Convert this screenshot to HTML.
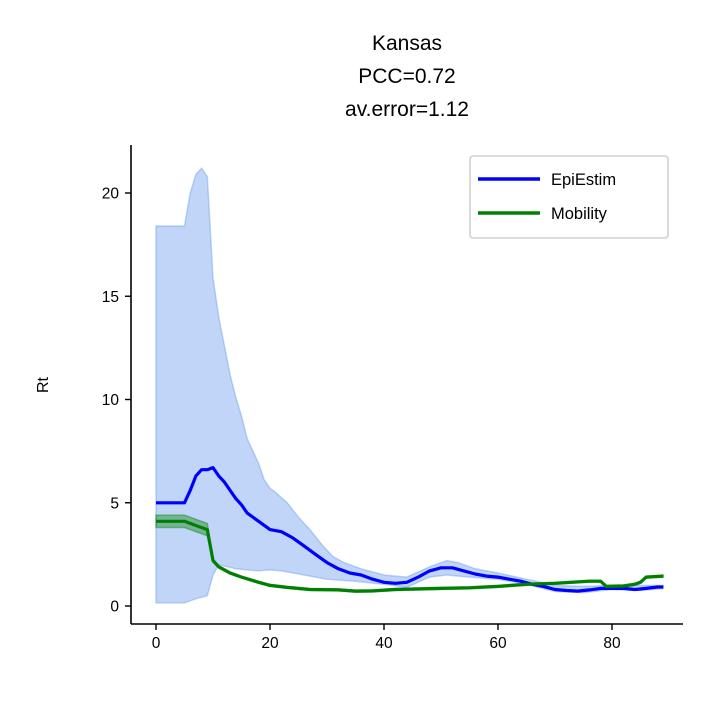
<!DOCTYPE html>
<html><head><meta charset="utf-8"><style>
body{margin:0;background:#fff}
svg text{font-family:"Liberation Sans","DejaVu Sans",sans-serif;fill:#000}
</style></head><body>
<svg id="chart" width="708" height="708" viewBox="0 0 708 708">
<g id="title" font-size="21" text-anchor="middle">
<text x="407" y="50">Kansas</text><text x="407" y="83">PCC=0.72</text><text x="407" y="116">av.error=1.12</text>
</g>
<g id="plot"></g>
<line x1="131" y1="145" x2="131" y2="624" stroke="#000" stroke-width="1.6"/>
<line x1="131" y1="624" x2="683" y2="624" stroke="#000" stroke-width="1.6"/>
<g id="ticks" font-size="15.5"></g>
<text x="48" y="385" font-size="16" text-anchor="middle" transform="rotate(-90 48 385)">Rt</text>
<g>
<rect x="470" y="156" width="198" height="82" rx="3" fill="#fff" stroke="#ccc" stroke-width="1.6" opacity="0.9"/>
<g><line x1="478" y1="179" x2="540" y2="179" stroke="#0000ff" stroke-width="3.5"/><text x="551" y="185" font-size="16.5">EpiEstim</text></g>
<g><line x1="478" y1="213" x2="540" y2="213" stroke="#008000" stroke-width="3.5"/><text x="551" y="219" font-size="16.5">Mobility</text></g>
</g>
</svg>
<script>
const epiDays=[0,5,6,7,8,9,10,11,12,13,14,15,16,18,20,22,24,26,28,30,32,34,36,38,40,42,44,46,48,50,52,54,56,58,60,62,64,66,68,70,72,74,76,78,80,82,84,86,88,89];
const epiMean=[5.0,5.0,5.6,6.3,6.6,6.6,6.7,6.3,6.0,5.6,5.2,4.9,4.5,4.1,3.7,3.6,3.3,2.9,2.5,2.1,1.8,1.6,1.5,1.3,1.15,1.1,1.15,1.4,1.7,1.85,1.85,1.7,1.55,1.45,1.4,1.3,1.2,1.05,0.95,0.8,0.75,0.72,0.78,0.85,0.85,0.85,0.8,0.85,0.92,0.92];
const upDays=[0,5,6,7,8,9,10,11,12,13,14,15,16,18,19,20,21,23,25,27,29,31,33,36,40,44,48,51,53,56,60,65,70,75,80,85,89];
const epiUpper=[18.4,18.4,20.0,20.9,21.2,20.8,15.9,14.0,12.6,11.2,10.1,9.2,8.1,6.9,6.1,5.7,5.5,5.0,4.3,3.7,3.0,2.4,2.1,1.8,1.5,1.4,1.9,2.2,2.1,1.8,1.6,1.3,1.0,0.95,1.0,1.0,1.0];
const loDays=[0,5,7,9,10,11,14,18,20,22,26,30,35,40,44,48,51,55,60,65,70,75,80,85,89];
const epiLower=[0.15,0.15,0.35,0.5,1.5,2.0,1.8,1.7,1.75,1.7,1.5,1.3,1.2,1.05,0.9,1.4,1.5,1.4,1.3,1.05,0.7,0.65,0.8,0.75,0.85];
const mobDays=[0,5,7,9,10,11,13,15,18,20,23,27,32,35,38,42,50,55,60,65,70,76,78,79,82,84,85,86,89];
const mobMean=[4.1,4.1,3.9,3.7,2.2,1.9,1.6,1.4,1.15,1.0,0.9,0.8,0.78,0.72,0.73,0.8,0.85,0.88,0.95,1.05,1.1,1.2,1.2,0.95,0.97,1.05,1.15,1.4,1.45];
const mobSpread=[0.3,0.3,0.3,0.3,0.08,0.06,0.05,0.05,0.05,0.05,0.05,0.05,0.05,0.05,0.05,0.05,0.05,0.05,0.05,0.05,0.05,0.05,0.05,0.05,0.05,0.05,0.05,0.05,0.05];
const xTicks=[0,20,40,60,80];
const yTicks=[0,5,10,15,20];

const xs=v=>156+v*5.7, ys=v=>606-v*20.65;
const NS='http://www.w3.org/2000/svg';
const plot=document.getElementById('plot'), tk=document.getElementById('ticks');
function mk(tag,attrs,parent){const e=document.createElementNS(NS,tag);for(const k in attrs)e.setAttribute(k,attrs[k]);parent.appendChild(e);return e;}
const line=(d,v)=>d.map((x,i)=>(i?'L':'M')+xs(x).toFixed(1)+','+ys(v[i]).toFixed(1)).join('');
let band=line(upDays,epiUpper)+loDays.slice().reverse().map((x,i)=>'L'+xs(x).toFixed(1)+','+ys(epiLower[loDays.length-1-i]).toFixed(1)).join('')+'Z';
const b=mk('path',{d:band,fill:'#6495ed','fill-opacity':0.4,stroke:'#6495ed','stroke-opacity':0.4,'stroke-width':1.5},plot);


const mobHi=mobMean.map((v,i)=>v+mobSpread[i]), mobLo=mobMean.map((v,i)=>v-mobSpread[i]);
let mb=line(mobDays,mobHi)+mobDays.slice().reverse().map((x,i)=>'L'+xs(x).toFixed(1)+','+ys(mobLo[mobDays.length-1-i]).toFixed(1)).join('')+'Z';
const m2=mk('path',{d:mb,fill:'#008000','fill-opacity':0.4,stroke:'#008000','stroke-opacity':0.4,'stroke-width':1.5},plot);


const l1=mk('path',{d:line(epiDays,epiMean),fill:'none',stroke:'#0000ff','stroke-width':3.2,'stroke-linejoin':'round'},plot);


const l2=mk('path',{d:line(mobDays,mobMean),fill:'none',stroke:'#008000','stroke-width':3.2,'stroke-linejoin':'round'},plot);


xTicks.forEach(t=>{
  const g=mk('g',{},tk);
  
  
  mk('line',{x1:xs(t),x2:xs(t),y1:624,y2:630,stroke:'#000','stroke-width':1.4},g);
  const tx=mk('text',{x:xs(t),y:648,'text-anchor':'middle'},g);tx.textContent=t;
});
yTicks.forEach(t=>{
  const g=mk('g',{},tk);
  
  
  mk('line',{x1:125,x2:131,y1:ys(t),y2:ys(t),stroke:'#000','stroke-width':1.4},g);
  const tx=mk('text',{x:119,y:ys(t)+5.5,'text-anchor':'end'},g);tx.textContent=t;
});
</script>
</body></html>
